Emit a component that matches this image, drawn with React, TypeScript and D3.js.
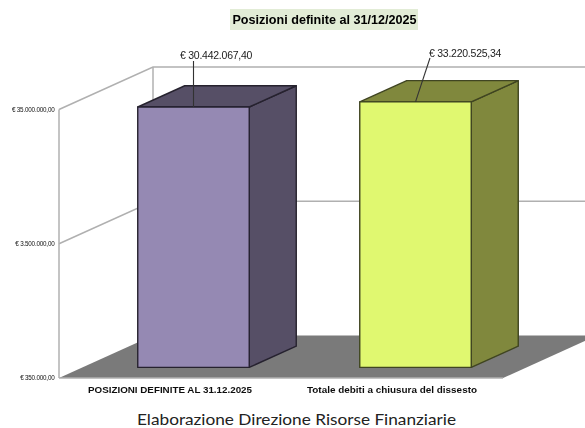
import React from "react";
import * as d3 from "d3";

const categories = ["POSIZIONI DEFINITE AL 31.12.2025", "Totale debiti a chiusura del dissesto"];
const values = [30442067.4, 33220525.34];
const valueLabels = ["€ 30.442.067,40", "€ 33.220.525,34"];
const frontColors = ["#9589b3", "#e0f870"];
const sideColors = ["#564f66", "#80883e"];
const edgeColors = ["#26222f", "#3f4420"];
const tickValues = [350000, 3500000, 35000000];
const tickLabels = ["€ 350.000,00", "€ 3.500.000,00", "€ 35.000.000,00"];
const titleText = "Posizioni definite al 31/12/2025";
const captionText = "Elaborazione Direzione Risorse Finanziarie";

const W = 585, H = 428;
const sans = "'Liberation Sans', Arial, sans-serif";
const y = d3.scaleLog().domain([350000, 35000000]).range([378, 109.5]);
const x = d3.scaleBand<number>().domain([0, 1]).range([59, 503]);
const dx = 94, dy = -42.5;
const barStart = 0.25, barDepth = 0.5;
const barWidth = 111.5;

const poly = (p: [number, number][]) => d3.line()(p)! + "Z";
const labelPos: { tx: number; ty: number; lx: number; ly: number }[] = [
  { tx: 180, ty: 59, lx: 193.5, ly: 61 },
  { tx: 429, ty: 56.5, lx: 430, ly: 58 },
];
const catWidths = [164, 170];

export default function App() {
  const front0 = y.range()[0];
  const x0 = x.range()[0], x1 = x.range()[1];
  const gridStroke = "#b0b0b0";
  return (
    <svg width={W} height={H} viewBox={`0 0 ${W} ${H}`} style={{ position: "absolute", left: 0, top: 0, background: "#fff" }}>
      <defs>
        <filter id="soft" x="-5%" y="-5%" width="110%" height="110%">
          <feGaussianBlur stdDeviation="0.4" />
        </filter>
      </defs>
      <g filter="url(#soft)">
        <rect x={230} y={9} width={188} height={21} fill="#e2ecd6" />
        <text x={324.5} y={24} textAnchor="middle" fontFamily={sans} fontWeight="700" fontSize={12.6} fill="#000">{titleText}</text>

        <path d={poly([[x0, front0], [x1, front0], [x1 + dx, front0 + dy], [x0 + dx, front0 + dy]])} fill="#7a7a7a" />
        {tickValues.map((t, i) => (
          <g key={t}>
            {i > 0 && <path d={`M${x0},${y(t)}L${x0 + dx},${y(t) + dy}L${W},${y(t) + dy}`} fill="none" stroke={gridStroke} strokeWidth={1.5} />}
            <text x={54.5} y={y(t) + 2} textAnchor="end" fontFamily={sans} fontSize={6.3} letterSpacing={-0.2} fill="#111">{tickLabels[i]}</text>
          </g>
        ))}
        <line x1={x0} y1={y(35000000)} x2={x0} y2={front0} stroke={gridStroke} strokeWidth={1.5} />
        <line x1={x0 + dx} y1={y(35000000) + dy} x2={x0 + dx} y2={front0 + dy} stroke={gridStroke} strokeWidth={1.5} />
        <line x1={x0} y1={front0} x2={x1} y2={front0} stroke={gridStroke} strokeWidth={1.5} />

        {values.map((v, i) => {
          const cx = x(i)! + x.bandwidth() / 2 + dx * barStart;
          const l = cx - barWidth / 2, r = cx + barWidth / 2;
          const ox = dx * barDepth, oy = dy * barDepth;
          const top = y(v) + dy * barStart, bottom = front0 + dy * barStart;
          const s = edgeColors[i];
          const lp = labelPos[i];
          return (
            <g key={categories[i]} stroke={s} strokeWidth={1.4} strokeLinejoin="round">
              <path d={poly([[r, top], [r + ox, top + oy], [r + ox, bottom + oy], [r, bottom]])} fill={sideColors[i]} />
              <path d={poly([[l, top], [l + ox, top + oy], [r + ox, top + oy], [r, top]])} fill={sideColors[i]} />
              <path d={poly([[l, top], [r, top], [r, bottom], [l, bottom]])} fill={frontColors[i]} />
              <line x1={lp.lx} y1={lp.ly} x2={cx} y2={top} stroke="#333" strokeWidth={1.1} />
            </g>
          );
        })}
        {values.map((v, i) => (
          <text key={v} x={labelPos[i].tx} y={labelPos[i].ty} fontFamily={sans} fontSize={10.5} letterSpacing={-0.25} fill="#222">{valueLabels[i]}</text>
        ))}
        {categories.map((c, i) => (
          <text key={c} x={x(i)! + x.bandwidth() / 2} y={392.5} textAnchor="middle" fontFamily={sans} fontWeight="700" fontSize={9.8} textLength={catWidths[i]} lengthAdjust="spacingAndGlyphs" fill="#111">{c}</text>
        ))}
      </g>
      <text x={296.5} y={425} textAnchor="middle" fontFamily="Lato, sans-serif" fontSize={15} textLength={319} lengthAdjust="spacingAndGlyphs" fill="#222">{captionText}</text>
    </svg>
  );
}
